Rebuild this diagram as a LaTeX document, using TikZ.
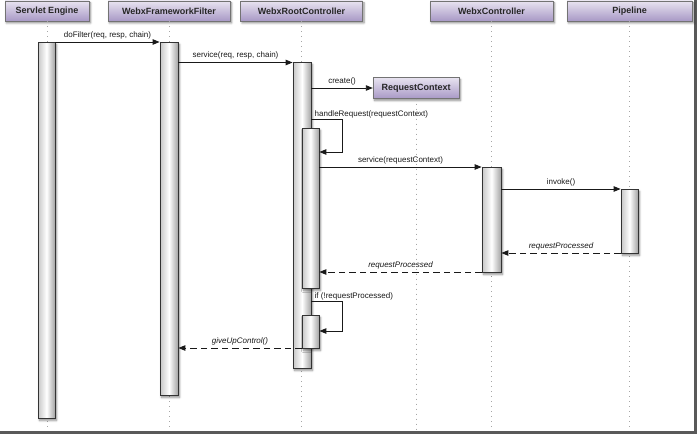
\documentclass[tikz,border=0pt]{standalone}
\usepackage{fontspec}
\setmainfont{Liberation Sans}
\usetikzlibrary{shadows.blur,arrows.meta}
\definecolor{hdtop}{RGB}{232,227,240}
\definecolor{hdbot}{RGB}{168,153,198}
\tikzset{
  hdr/.style={draw=black!55, top color=hdtop, bottom color=hdbot, minimum height=20pt,
    inner sep=0pt, font=\fontsize{9}{10}\selectfont\bfseries, text=black!85,
    blur shadow={shadow xshift=1.5pt, shadow yshift=-2pt, shadow blur steps=6, shadow opacity=45}},
  bar/.style={draw=black!80, line width=0.8pt, left color=black!22, right color=black!36,
    middle color=white, minimum width=17pt, inner sep=0pt, anchor=north,
    blur shadow={shadow xshift=1.5pt, shadow yshift=-2pt, shadow blur steps=6, shadow opacity=45}},
  life/.style={draw=black!35, line width=0.8pt, dash pattern=on 1pt off 4pt},
  msg/.style={draw=black!90, line width=0.9pt, -{Triangle[length=7pt,width=5.5pt]}},
  ret/.style={msg, dash pattern=on 6.5pt off 4pt},
  lbl/.style={font=\fontsize{8}{9}\selectfont, text=black!90, inner sep=2.5pt, anchor=south},
  ilbl/.style={lbl, font=\fontsize{8}{9}\selectfont\itshape},
}
\begin{document}
\begin{tikzpicture}[x=1pt,y=-1pt]
\useasboundingbox (0,0) rectangle (700,436);
% frame
\draw[line width=2.4pt, black!65] (0,432.5) -- (695.5,432.5) -- (695.5,0);
\coordinate (bot) at (0,431);
% headers
\node[hdr, minimum width=84pt] (se) at (47,11) {Servlet Engine};
\node[hdr, minimum width=122pt] (wff) at (169,11) {WebxFrameworkFilter};
\node[hdr, minimum width=122pt] (rc) at (301.5,11) {WebxRootController};
\node[hdr, minimum width=123pt] (wc) at (491.5,11) {WebxController};
\node[hdr, minimum width=125pt] (pl) at (629.5,11) {Pipeline};
% lifelines
\draw[life] (se.south) -- (se.south |- bot);
\draw[life] (wff.south) -- (wff.south |- bot);
\draw[life] (rc.south) -- (rc.south |- bot);
\draw[life] (wc.south) -- (wc.south |- bot);
\draw[life] (pl.south) -- (pl.south |- bot);
\node[hdr, minimum width=86pt, minimum height=21pt] (ctx) at (416,88) {RequestContext};
\draw[life] (ctx.south) -- (ctx.south |- bot);
% activation bars
\node[bar, minimum width=17pt, minimum height=376pt] (seb) at (46.5,42) {};
\node[bar, minimum width=18pt, minimum height=353pt] (wffb) at (169,42) {};
\node[bar, minimum width=18pt, minimum height=306pt] (rcb) at (302,62) {};
\node[bar, minimum width=17pt, minimum height=160pt] (rcb2) at (310.5,128) {};
\node[bar, minimum width=17pt, minimum height=33pt] (rcb3) at (310.5,315) {};
\node[bar, minimum width=19pt, minimum height=105pt] (wcb) at (491.5,167) {};
\node[bar, minimum width=17pt, minimum height=64pt] (plb) at (629.5,189) {};
% message rows
\coordinate (m1) at (0,42);
\coordinate (m2) at (0,62.5);
\coordinate (m3) at (0,88);
\coordinate (l1) at (342,119);
\coordinate (l1b) at (342,152);
\coordinate (m5) at (0,167);
\coordinate (m6) at (0,189);
\coordinate (m7) at (0,253);
\coordinate (m8) at (0,272);
\coordinate (l2) at (342,301);
\coordinate (l2b) at (342,331);
\coordinate (m10) at (0,348);
% messages
\draw[msg] (seb.east |- m1) -- node[lbl] {doFilter(req, resp, chain)} (wffb.west |- m1);
\draw[msg] (wffb.east |- m2) -- node[lbl] {service(req, resp, chain)} (rcb.west |- m2);
\draw[msg] (rcb.east |- m3) -- node[lbl] {create()} (ctx.west |- m3);
\draw[msg] (rcb.east |- l1) -- (l1) -- (l1b) -- (rcb2.east |- l1b);
\node[lbl, anchor=base west, inner sep=0pt] (t4) at (314.5,116) {handleRequest(requestContext)};
\draw[msg] (rcb2.east |- m5) -- node[lbl] {service(requestContext)} (wcb.west |- m5);
\draw[msg] (wcb.east |- m6) -- node[lbl] {invoke()} (plb.west |- m6);
\draw[ret] (plb.west |- m7) -- node[ilbl] {requestProcessed} (wcb.east |- m7);
\draw[ret] (wcb.west |- m8) -- node[ilbl] {requestProcessed} (rcb2.east |- m8);
\draw[msg] (rcb.east |- l2) -- (l2) -- (l2b) -- (rcb3.east |- l2b);
\node[lbl, anchor=base west, inner sep=0pt] (t9) at (314.5,298) {if (!requestProcessed)};
\draw[ret] (rcb3.west |- m10) -- node[ilbl] {giveUpControl()} (wffb.east |- m10);
\end{tikzpicture}
\end{document}
